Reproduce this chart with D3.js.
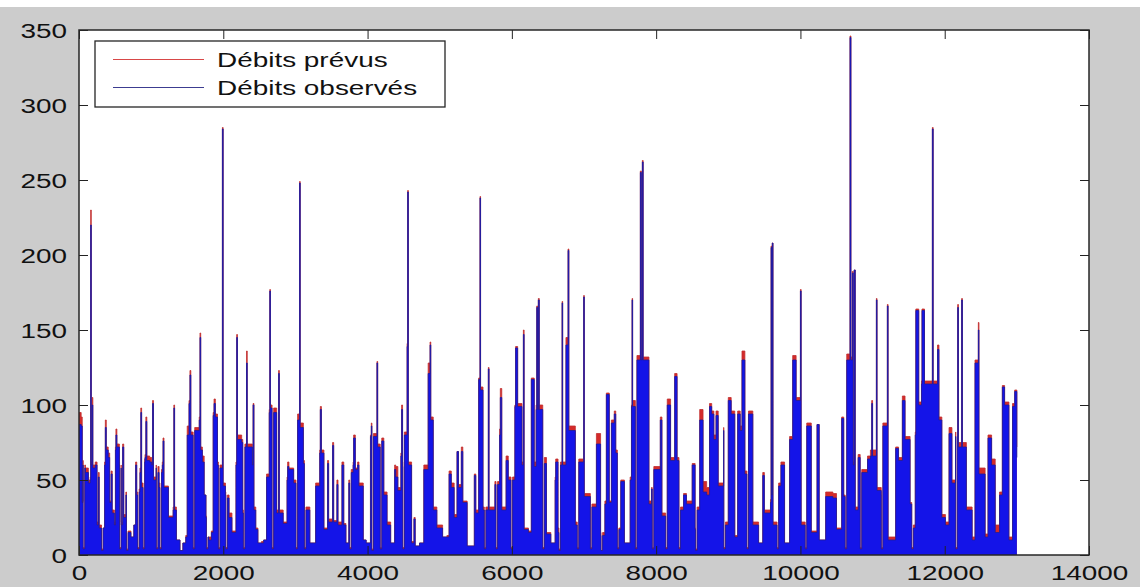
<!DOCTYPE html>
<html><head><meta charset="utf-8">
<script src="https://cdn.jsdelivr.net/npm/d3@7"></script>
<style>html,body{margin:0;padding:0;background:#fff;}svg{display:block}</style>
</head><body><svg id="chart" width="1140" height="587"></svg>
<script>
// time step (x), observed discharge, predicted discharge
const t = [
0,30,45,55,57,80,90,130,155,162,170,182,192,225,250,268,280,312,334,355,365,378,405,425,445,460,490,505,512,525,560,562,584,585,605,620,650,658,680,720,760,785,800,812,834,845,857,868,888,910,915,927,940,980,1008,1020,1032,1070,1072,1094,1110,1122,1144,1155,1165,1178,1240,1305,1315,1325,1350,1400,1440,1480,1500,1525,1538,1550,1582,1604,1667,1677,1687,1710,1735,1760,1766,1788,1800,1835,1860,1872,1890,1920,1932,1954,1978,1988,1998,2030,2035,2057,2080,2120,2176,2186,
2196,2255,2270,2278,2300,2322,2332,2403,2413,2425,2450,2480,2530,2560,2600,2637,2645,2653,2676,2698,2740,2757,2767,2777,2830,2884,2892,2910,2975,3008,3030,3058,3066,3110,3124,3146,3200,3280,3337,3345,3360,3395,3445,3460,3515,3530,3575,3590,3645,3670,3700,3740,3752,3774,3800,3807,3830,3862,3880,3940,3980,4040,4052,4060,4082,4130,4140,4175,4197,4225,4270,4320,4375,
4390,4420,4462,4472,4485,4488,4510,4548,4556,4565,4610,4643,4660,4720,4780,4840,4866,4876,4910,4960,5040,5100,5130,5160,5200,5240,5260,5300,5320,5380,5480,5500,5540,5558,5566,5600,5618,5640,5674,5684,5765,5780,5802,5830,5840,5860,5920,5950,5988,6010,6042,6052,6080,6140,6160,6170,6230,6270,6310,6336,6345,6356,6367,6380,6428,6450,6480,6540,
6600,6608,6640,6652,6674,6696,6704,6750,6779,6790,6880,6906,6928,6996,7004,7088,7110,7172,7230,7236,7258,7290,7310,7350,7380,7420,7440,7462,7484,7510,7560,7640,7658,7666,7674,7712,7734,7781,7795,7809,7820,7900,7935,7946,7968,8058,8080,8132,8154,8200,8257,8290,8316,8338,8380,8420,8500,8540,8546,8568,8604,8650,8700,8740,
8770,8800,8830,8860,8935,8938,8960,9000,9040,9090,9130,9165,9190,9230,9258,9280,9340,9420,9478,9500,9585,9593,9601,9610,9620,9676,9698,9730,9780,9850,9893,9940,10000,10010,10066,10088,10150,10230,10260,10350,10450,10500,10572,10600,10620,10642,10687,10700,10720,10732,10745,10760,10800,10828,10850,10930,
10970,10988,11000,11053,11062,11120,11121,11143,11205,11215,11320,11360,11413,11450,11520,11543,11565,11592,11600,11640,11678,11685,11720,11829,11840,11900,11920,11960,12010,12060,12100,12150,12152,12174,12180,12190,12235,12245,12300,12380,12420,12466,12475,12560,12600,12650,12700,12760,12799,12830,12890,12940,12970,13000
];
const observed = [
87,86,35,60,4,58,55,48,50,220,60,100,58,60,20,52,18,3,18,60,85,70,65,35,54,28,20,70,80,72,60,4,58,20,72,25,40,3,15,12,20,60,40,4,42,55,95,45,4,62,65,89,63,62,60,101,50,58,4,55,45,4,55,60,76,45,25,30,98,30,10,3,8,12,80,101,120,80,4,83,90,145,70,62,40,25,4,12,10,15,93,101,92,60,4,58,58,284,46,40,4,38,25,15,60,145,
77,75,28,4,72,128,72,60,100,30,17,8,8,10,52,95,176,98,4,95,28,28,121,28,21,50,59,57,48,4,90,248,85,61,4,30,8,46,68,97,68,17,61,22,73,22,47,20,60,20,8,48,4,55,60,78,57,60,46,10,8,79,86,3,79,128,72,4,76,40,20,8,57,
52,43,66,97,59,4,80,139,242,60,8,24,6,8,57,121,140,90,30,18,12,12,54,45,25,69,45,69,35,6,53,28,117,238,110,30,4,30,124,30,47,4,47,80,105,30,63,50,4,50,99,138,99,60,147,17,15,117,59,97,165,97,170,97,4,61,14,8,
50,62,15,3,60,168,60,140,203,83,20,4,62,172,39,4,32,74,13,3,13,34,107,35,88,94,68,4,17,49,8,50,99,170,99,4,130,255,130,262,130,34,44,4,57,90,26,4,100,63,119,63,4,30,40,34,60,17,3,30,90,42,40,99,
94,77,93,46,83,4,20,103,94,12,94,83,130,54,4,94,20,8,53,28,35,205,40,208,20,4,46,60,8,77,130,103,176,20,4,86,15,87,10,39,38,17,91,39,4,130,345,130,188,60,190,30,65,4,55,64,
66,101,66,170,43,40,4,86,166,10,71,63,103,77,34,4,18,80,163,100,114,163,114,284,114,137,90,25,20,81,48,79,4,79,165,72,170,72,30,10,128,150,54,12,78,60,15,40,112,100,10,99,109,65
];
const predicted = [
95,92,36,63,5,60,58,50,52,230,62,105,60,62,22,55,20,4,18,62,90,72,68,36,56,30,22,72,84,74,62,5,60,22,74,27,42,4,16,12,20,62,42,5,44,58,98,48,5,64,67,92,66,65,62,103,52,60,5,59,48,5,57,62,78,46,26,32,100,32,10,3,8,13,86,103,123,82,5,85,92,148,72,66,40,26,5,12,12,16,95,104,94,62,5,60,60,285,48,42,5,40,28,16,62,147,
80,77,30,5,74,136,74,62,101,32,18,8,9,10,54,97,177,100,5,98,30,30,123,30,22,52,62,58,50,5,94,249,88,63,5,32,8,48,70,99,70,18,63,24,75,23,50,22,62,21,8,50,5,57,62,80,58,62,48,10,8,80,88,4,81,129,74,5,78,42,22,8,60,
59,45,68,100,62,5,82,141,243,62,9,25,6,8,60,128,142,92,32,20,12,13,56,48,27,69,47,72,36,6,54,30,118,239,112,32,5,32,125,32,49,5,49,84,111,32,66,52,5,52,100,139,101,62,150,18,16,118,62,100,166,100,171,100,5,65,15,8,
52,64,18,4,62,169,62,145,204,86,22,5,64,173,41,5,34,81,15,3,15,36,108,36,90,96,70,5,18,50,8,52,100,171,103,5,133,256,132,263,132,36,45,5,59,92,28,5,104,65,121,65,5,32,41,36,61,18,4,32,97,49,45,101,
96,80,96,48,85,5,22,105,96,13,96,86,136,56,5,96,22,8,55,30,37,206,42,208,22,5,48,62,8,79,133,105,177,22,5,88,16,87,10,42,41,18,92,40,5,134,346,132,189,62,190,32,67,5,57,66,
70,103,70,171,45,42,5,88,167,12,72,65,106,79,35,5,20,82,164,102,116,164,116,285,116,140,92,27,22,85,50,82,5,82,167,75,171,75,32,12,130,155,58,14,80,64,20,42,113,102,12,101,110,72
];
const xTicks = [0,2000,4000,6000,8000,10000,12000,14000];
const yTicks = [0,50,100,150,200,250,300,350];
const seriesNames = ["Débits prévus","Débits observés"];
const seriesColors = ["#d42a2a","#1414e8"];
const seriesStroke = ["#c03030","#1c1c9c"];

const W = 1140, H = 587;
const m = {left:79, right:1089, top:30, bottom:555};
const FONT = "'Liberation Sans', Arial, sans-serif";
const SX = 1.33;

const svg = d3.select("#chart");
svg.append("rect").attr("width",W).attr("height",H).attr("fill","#cccccc");
svg.append("rect").attr("width",W).attr("height",7).attr("fill","#ffffff");
svg.append("rect").attr("x",m.left).attr("y",m.top).attr("width",m.right-m.left).attr("height",m.bottom-m.top).attr("fill","#ffffff");

const x = d3.scaleLinear().domain([0,14000]).range([m.left,m.right]);
const y = d3.scaleLinear().domain([0,350]).range([m.bottom,m.top]);

svg.append("clipPath").attr("id","clip").append("rect")
  .attr("x",m.left).attr("y",m.top).attr("width",m.right-m.left).attr("height",m.bottom-m.top);

const n = Math.min(t.length, observed.length, predicted.length);
const rows = d3.range(n).map(i => ({t:t[i], o:observed[i], p:predicted[i]}));

const plot = svg.append("g").attr("clip-path","url(#clip)");
const keys = ["p","o"];
keys.forEach((k,i) => {
  plot.append("path").datum(rows)
    .attr("d", d3.area().curve(d3.curveStepAfter).x(d=>x(d.t)).y0(y(0)).y1(d=>y(d[k])))
    .attr("fill", seriesColors[i]);
  plot.append("path").datum(rows)
    .attr("d", d3.line().curve(d3.curveStepAfter).x(d=>x(d.t)).y(d=>y(d[k])))
    .attr("fill","none").attr("stroke", seriesStroke[i]).attr("stroke-width",0.8);
});

// axes (MATLAB style: inward ticks on all sides)
const tickLen = 9;
function styleAxis(g){
  g.select(".domain").remove();
  g.selectAll("line").attr("stroke","#222").attr("stroke-width",1);
  g.attr("font-family", FONT).attr("font-size", 21);
  g.selectAll("text").attr("fill","#111");
}
const gx = svg.append("g").attr("transform",`translate(0,${m.bottom})`)
  .call(d3.axisBottom(x).tickValues(xTicks).tickSizeInner(-tickLen).tickSizeOuter(0).tickFormat(d3.format("d")));
styleAxis(gx);
gx.selectAll("text").attr("y",25).attr("dy",null).attr("transform",`scale(${SX},1)`);

const gy = svg.append("g").attr("transform",`translate(${m.left},0)`)
  .call(d3.axisLeft(y).tickValues(yTicks).tickSizeInner(-tickLen).tickSizeOuter(0));
styleAxis(gy);
gy.selectAll("text").attr("x",-12/SX).attr("dy","0.36em").attr("transform",`scale(${SX},1)`);

const gt = svg.append("g").attr("transform",`translate(0,${m.top})`)
  .call(d3.axisTop(x).tickValues(xTicks).tickSizeInner(-tickLen).tickSizeOuter(0).tickFormat(""));
styleAxis(gt);
const gr = svg.append("g").attr("transform",`translate(${m.right},0)`)
  .call(d3.axisRight(y).tickValues(yTicks).tickSizeInner(-tickLen).tickSizeOuter(0).tickFormat(""));
styleAxis(gr);

svg.append("rect").attr("x",m.left).attr("y",m.top).attr("width",m.right-m.left).attr("height",m.bottom-m.top)
  .attr("fill","none").attr("stroke","#262626").attr("stroke-width",1.5);

// legend
const lg = svg.append("g");
lg.append("rect").attr("x",95).attr("y",41).attr("width",350).attr("height",66)
  .attr("fill","#ffffff").attr("stroke","#262626").attr("stroke-width",1.3);
const legendLine = ["#d84848","#3c3c90"];
seriesNames.forEach((name,i) => {
  const cy = 59.5 + i*28;
  lg.append("line").attr("x1",113).attr("x2",204).attr("y1",cy).attr("y2",cy)
    .attr("stroke",legendLine[i]).attr("stroke-width",1.2);
  lg.append("text").attr("transform",`translate(217,${cy+7.5}) scale(${SX},1)`)
    .attr("font-family",FONT).attr("font-size",21).attr("fill","#111").text(name);
});
</script></body></html>
